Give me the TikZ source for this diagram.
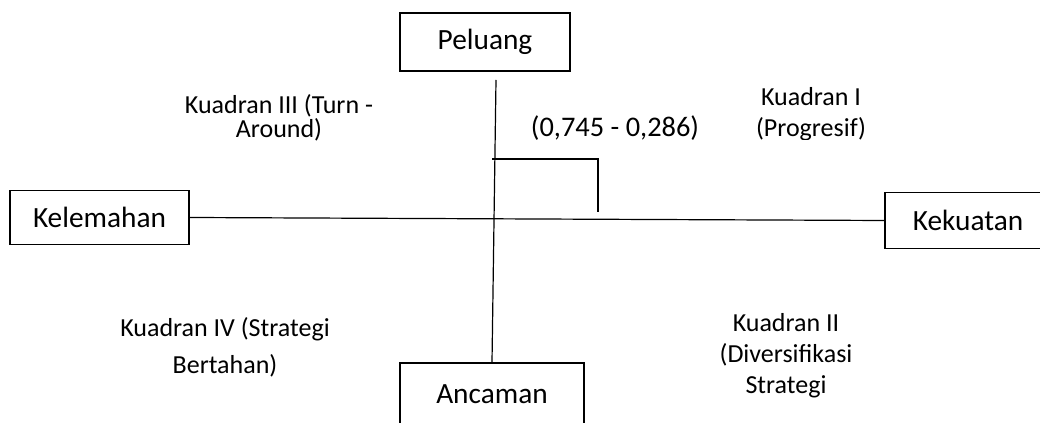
\documentclass[tikz,border=0pt]{standalone}
\usepackage{fontspec}
\setmainfont{Carlito}
\newcommand\qfont[1]{\fontsize{19.5}{#1}\selectfont\lineskiplimit=-20pt\relax}
\begin{document}
\begin{tikzpicture}[x=0.75pt,y=-0.75pt,
  box/.style={draw,line width=1.1pt,inner sep=0pt,font=\fontsize{22}{26}\selectfont},
  quad/.style={align=center,inner sep=0pt,anchor=base},
  ln/.style={line width=0.9pt}]
\useasboundingbox (0,0) rectangle (1040,423);
\clip (0,0) rectangle (1040,423);
% boxes
\node[box,minimum width=127.5pt,minimum height=43.5pt] (Peluang) at (485,42) {Peluang};
\node[box,minimum width=134.25pt,minimum height=40.5pt] (Kelemahan) at (99.5,217.5) {Kelemahan};
\node[box,minimum width=124.5pt,minimum height=42pt] (Kekuatan) at (968,220.5) {Kekuatan};
\node[box,minimum width=138pt,minimum height=46.5pt] (Ancaman) at (492,394) {Ancaman};
% axes
\coordinate (vtop) at (496,80);
\draw[ln] (vtop) -- (Ancaman.north);
\draw[ln] (Kelemahan.east) -- (Kekuatan.west);
% bracket
\coordinate (b1) at (492,159);
\coordinate (b2) at (598,159);
\coordinate (b3) at (598,212);
\draw[ln] (b1) -- (b2) -- (b3);
% labels
\node[quad,font=\fontsize{21.3}{25}\selectfont] (pt) at (615,137) {(0,745 - 0,286)};
\node[quad,font={\qfont{18}}] (q3) at (279,138) {Kuadran III (Turn -\\Around)};
\begin{scope}
\clip (700,60) rectangle (900,139.5);
\node[quad,font={\qfont{23.25}}] (q1) at (811,137) {Kuadran I\\(Progresif)};
\end{scope}
\begin{scope}
\clip (690,290) rectangle (900,400);
\node[quad,font={\qfont{23.25}}] (q2) at (786,394) {Kuadran II\\(Diversifikasi\\Strategi};
\end{scope}
\node[quad,font={\qfont{27.75}}] (q4) at (225,374) {Kuadran IV (Strategi\\Bertahan)};
\end{tikzpicture}
\end{document}
